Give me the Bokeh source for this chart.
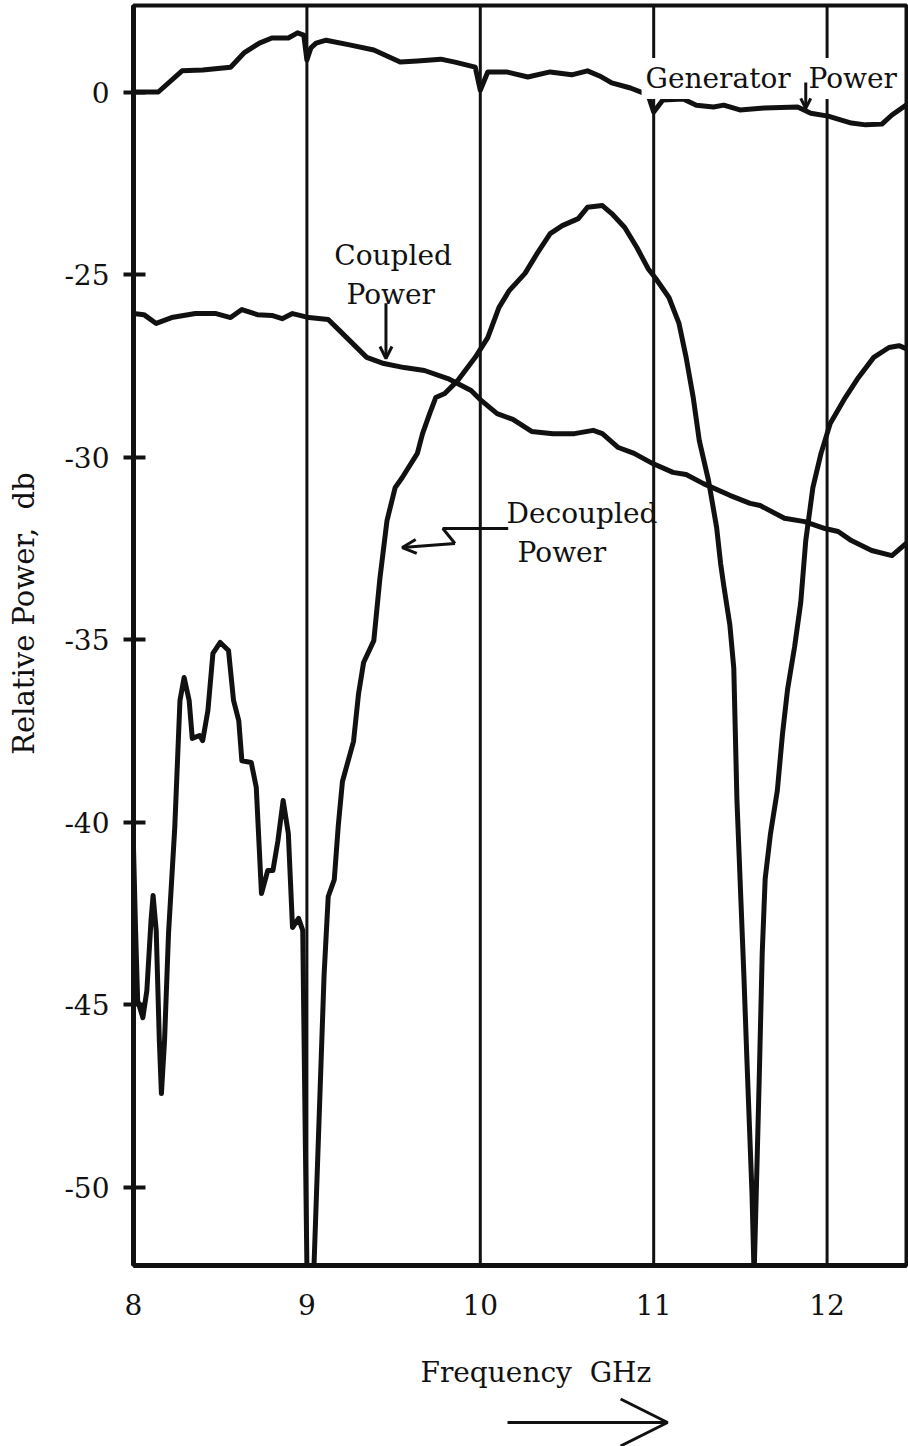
from math import pi
from bokeh.plotting import figure
from bokeh.layouts import column, row
from bokeh.models import Span, Label, Arrow, OpenHead, FixedTicker
from bokeh.embed import file_html
from bokeh.resources import INLINE

FONT = "DejaVu Serif"
INK = "#111111"

# ---------------- data ----------------
marker_ghz = [9, 10, 11, 12]
x_ticks = [8, 9, 10, 11, 12]

# The generator trace uses its own 0 dB reference, drawn where -20 dB would be.
GEN_OFFSET = -20
y_ticks = [-20, -25, -30, -35, -40, -45, -50]
y_tick_labels = ["0", "-25", "-30", "-35", "-40", "-45", "-50"]

gen_freq = [8.000, 8.143, 8.280, 8.399, 8.560, 8.637, 8.726, 8.798, 8.893, 8.946,
            8.982, 9.000, 9.023, 9.053, 9.111, 9.246, 9.386, 9.538, 9.637, 9.772,
            9.854, 9.971, 10.000, 10.043, 10.151, 10.274, 10.403, 10.527, 10.618, 10.688,
            10.758, 10.866, 10.968, 11.000, 11.053, 11.170, 11.246, 11.345, 11.404, 11.497,
            11.637, 11.830, 11.906, 12.006, 12.140, 12.222, 12.316, 12.374, 12.456]
gen_db = [0.00, 0.00, 0.58, 0.60, 0.68, 1.07, 1.34, 1.48, 1.48, 1.62,
          1.56, 0.88, 1.21, 1.34, 1.42, 1.29, 1.15, 0.82, 0.85, 0.90,
          0.82, 0.68, 0.05, 0.55, 0.55, 0.41, 0.55, 0.47, 0.58, 0.44,
          0.25, 0.11, -0.08, -0.55, -0.22, -0.19, -0.36, -0.41, -0.36, -0.49,
          -0.44, -0.41, -0.58, -0.66, -0.85, -0.90, -0.88, -0.63, -0.36]

coupled_freq = [8.000, 8.060, 8.131, 8.220, 8.357, 8.476, 8.560, 8.625, 8.714, 8.798,
                8.857, 8.917, 9.012, 9.123, 9.187, 9.345, 9.444, 9.561, 9.678, 9.813,
                9.947, 10.005, 10.097, 10.188, 10.296, 10.419, 10.543, 10.651, 10.704, 10.796,
                10.887, 10.995, 11.111, 11.187, 11.287, 11.439, 11.556, 11.614, 11.754, 11.871,
                11.988, 12.064, 12.140, 12.257, 12.374, 12.456]
coupled_db = [-26.07, -26.10, -26.34, -26.18, -26.07, -26.07, -26.18, -25.96, -26.10, -26.12,
              -26.21, -26.07, -26.18, -26.23, -26.53, -27.27, -27.44, -27.55, -27.63, -27.85,
              -28.18, -28.45, -28.81, -28.97, -29.30, -29.36, -29.36, -29.27, -29.36, -29.74,
              -29.90, -30.18, -30.42, -30.48, -30.73, -31.05, -31.27, -31.33, -31.68, -31.77,
              -31.96, -32.04, -32.29, -32.56, -32.70, -32.37]

decoupled_freq = [8.000, 8.012, 8.024, 8.054, 8.077, 8.101, 8.113, 8.131, 8.149, 8.161,
                  8.179, 8.202, 8.238, 8.268, 8.292, 8.321, 8.339, 8.381, 8.399, 8.429,
                  8.458, 8.500, 8.548, 8.577, 8.607, 8.625, 8.679, 8.708, 8.738, 8.774,
                  8.804, 8.833, 8.863, 8.893, 8.917, 8.952, 8.976, 8.988, 9.000, 9.018,
                  9.041, 9.070, 9.099, 9.123, 9.158, 9.181, 9.205, 9.269, 9.298, 9.327,
                  9.386, 9.421, 9.462, 9.509, 9.550, 9.637, 9.667, 9.708, 9.743, 9.795,
                  9.871, 9.971, 10.043, 10.108, 10.167, 10.258, 10.328, 10.403, 10.473, 10.565,
                  10.618, 10.704, 10.758, 10.833, 10.903, 10.968, 11.012, 11.088, 11.146, 11.187,
                  11.228, 11.263, 11.316, 11.363, 11.386, 11.404, 11.439, 11.462, 11.480, 11.503,
                  11.520, 11.538, 11.567, 11.579, 11.585, 11.608, 11.626, 11.643, 11.673, 11.713,
                  11.743, 11.772, 11.813, 11.848, 11.877, 11.918, 11.965, 12.018, 12.105, 12.181,
                  12.269, 12.357, 12.415, 12.456]
decoupled_db = [-40.70, -42.97, -44.89, -45.36, -44.62, -42.70, -42.01, -42.97, -45.99, -47.44,
                -45.99, -43.05, -40.15, -36.67, -36.04, -36.67, -37.71, -37.63, -37.77, -36.95,
                -35.38, -35.08, -35.30, -36.67, -37.22, -38.32, -38.37, -39.05, -41.96, -41.33,
                -41.33, -40.51, -39.41, -40.32, -42.89, -42.64, -42.97, -47.63, -52.15, -53.11,
                -52.15, -48.18, -44.21, -42.04, -41.58, -40.10, -38.89, -37.79, -36.48, -35.63,
                -35.03, -33.33, -31.74, -30.84, -30.56, -29.90, -29.36, -28.81, -28.37, -28.26,
                -27.90, -27.27, -26.73, -25.90, -25.44, -24.97, -24.42, -23.88, -23.66, -23.47,
                -23.16, -23.11, -23.33, -23.71, -24.26, -24.84, -25.11, -25.63, -26.34, -27.27,
                -28.37, -29.55, -30.64, -31.93, -32.92, -33.52, -34.59, -35.79, -39.38, -42.15,
                -44.18, -46.56, -50.18, -52.42, -51.36, -47.16, -43.58, -41.55, -40.34, -39.14,
                -37.58, -36.37, -35.19, -33.99, -32.29, -30.84, -29.90, -29.08, -28.37, -27.82,
                -27.27, -27.00, -26.95, -27.03]

NB = "\u00a0"
LEFT_W = 60          # width of the strip that carries the y-axis title

# ---------------- main figure ----------------
p = figure(width=908 - LEFT_W, height=1340, x_range=(8.0, 12.458), y_range=(-52.15, -17.63),
           output_backend="svg", toolbar_location=None,
           min_border_left=133 - LEFT_W, min_border_right=2, min_border_top=5,
           min_border_bottom=75)
p.grid.visible = False
p.outline_line_color = INK
p.outline_line_width = 4
p.background_fill_color = "white"
p.border_fill_color = "white"

p.xaxis.ticker = FixedTicker(ticks=x_ticks, minor_ticks=[])
p.xaxis.major_tick_line_color = None
p.xaxis.minor_tick_line_color = None
p.xaxis.axis_line_width = 5
p.xaxis.axis_line_color = INK
p.xaxis.major_label_standoff = 22

p.yaxis.ticker = FixedTicker(ticks=y_ticks, minor_ticks=[])
p.yaxis.major_label_overrides = {t: s for t, s in zip(y_ticks, y_tick_labels)}
p.yaxis.major_tick_in = 12
p.yaxis.major_tick_out = 10
p.yaxis.major_tick_line_width = 4
p.yaxis.major_tick_line_color = INK
p.yaxis.minor_tick_line_color = None
p.yaxis.axis_line_width = 5
p.yaxis.axis_line_color = INK
p.yaxis.major_label_standoff = 14

for ax in (p.xaxis, p.yaxis):
    ax.major_label_text_font = FONT
    ax.major_label_text_font_size = "28px"
    ax.major_label_text_color = INK

for m in marker_ghz:
    p.add_layout(Span(location=m, dimension="height", line_color=INK, line_width=3))

for xs, ys in ((gen_freq, [g + GEN_OFFSET for g in gen_db]),
               (coupled_freq, coupled_db),
               (decoupled_freq, decoupled_db)):
    p.line(xs, ys, line_color=INK, line_width=5, line_join="round", line_cap="round")


def label(fig, x, y, text, size="28px", **kw):
    fig.add_layout(Label(x=x, y=y, text=text, text_font=FONT, text_font_size=size,
                         text_color=INK, text_baseline="alphabetic", **kw))


def arrow(fig, x0, y0, x1, y1, size, lw=3):
    fig.add_layout(Arrow(end=OpenHead(size=size, line_width=lw, line_color=INK),
                         x_start=x0, y_start=y0, x_end=x1, y_end=y1,
                         line_width=lw, line_color=INK))


label(p, 10.93, -19.63, "Generator" + NB + NB + "Power",
      background_fill_color="white", padding=4)
arrow(p, 11.877, -19.74, 11.877, -20.45, 10)

label(p, 9.158, -24.48, "Coupled")
label(p, 9.228, -25.55, "Power")
arrow(p, 9.456, -25.79, 9.456, -27.30, 12)

label(p, 10.151, -31.55, "Decoupled")
label(p, 10.215, -32.62, "Power")
p.line([10.161, 9.784, 9.854], [-31.96, -31.96, -32.37], line_color=INK, line_width=3)
arrow(p, 9.854, -32.37, 9.550, -32.48, 14)

# ---------------- strip below: axis title and sweep arrow ----------------
q = figure(width=908 - LEFT_W, height=106, x_range=p.x_range, y_range=(0, 106),
           output_backend="svg", toolbar_location=None,
           x_axis_type=None, y_axis_type=None,
           min_border_left=133 - LEFT_W, min_border_right=2, min_border_top=0,
           min_border_bottom=0)
q.outline_line_color = None
q.background_fill_color = "white"
q.border_fill_color = "white"

label(q, 9.655, 74, "Frequency" + NB + NB + "GHz")
arrow(q, 10.157, 24, 11.080, 24, 47)

# ---------------- strip on the left: y-axis title ----------------
r = figure(width=LEFT_W, height=1446, x_range=(0, LEFT_W), y_range=(0, 1446),
           output_backend="svg", toolbar_location=None,
           x_axis_type=None, y_axis_type=None,
           min_border_left=0, min_border_right=0, min_border_top=0, min_border_bottom=0)
r.outline_line_color = None
r.background_fill_color = "white"
r.border_fill_color = "white"
r.add_layout(Label(x=23, y=833, text="Relative Power," + NB + NB + "db", angle=pi / 2,
                   text_align="center", text_baseline="middle", text_font=FONT,
                   text_font_size="29px", text_color=INK))

layout = row(r, column(p, q, spacing=0), spacing=0)
open("out.html", "w").write(file_html(layout, INLINE))
